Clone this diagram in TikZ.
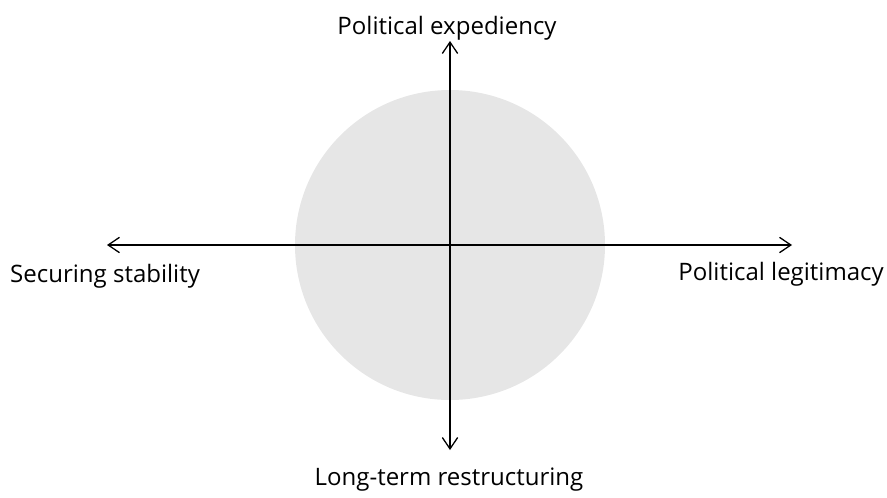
\documentclass[tikz,border=0pt]{standalone}
\usepackage{fontspec}
\setmainfont{Open Sans}
\usetikzlibrary{arrows.meta}
\definecolor{discgray}{RGB}{230,230,230}

\begin{document}
\begin{tikzpicture}[x=0.03cm,y=-0.03cm,font=\fontsize{20.5}{22}\selectfont,
                axis/.style={{Straight Barb[length=3.4mm,width=4.6mm]}-{Straight Barb[length=3.4mm,width=4.6mm]},line width=1.1pt}]
                \useasboundingbox (0,0) rectangle (887,497);
                \coordinate (o) at (450,245);
                \fill[discgray] (o) circle[radius=155*0.03cm];
                \coordinate (w) at (107,245);
                \coordinate (e) at (792,245);
                \coordinate (n) at (450,41);
                \coordinate (s) at (450,450);
                \draw[axis] (w)--(e);
                \draw[axis] (n)--(s);
                \node[anchor=base] (top) at (447,34) {Political expediency};
                \node[anchor=base west,inner xsep=0pt] (left) at (10,282) {Securing stability};
                \node[anchor=base east,inner xsep=0pt] (right) at (884,280) {Political legitimacy};
                \node[anchor=base] (bottom) at (449,485) {Long-term restructuring};
            \end{tikzpicture}
\end{document}
